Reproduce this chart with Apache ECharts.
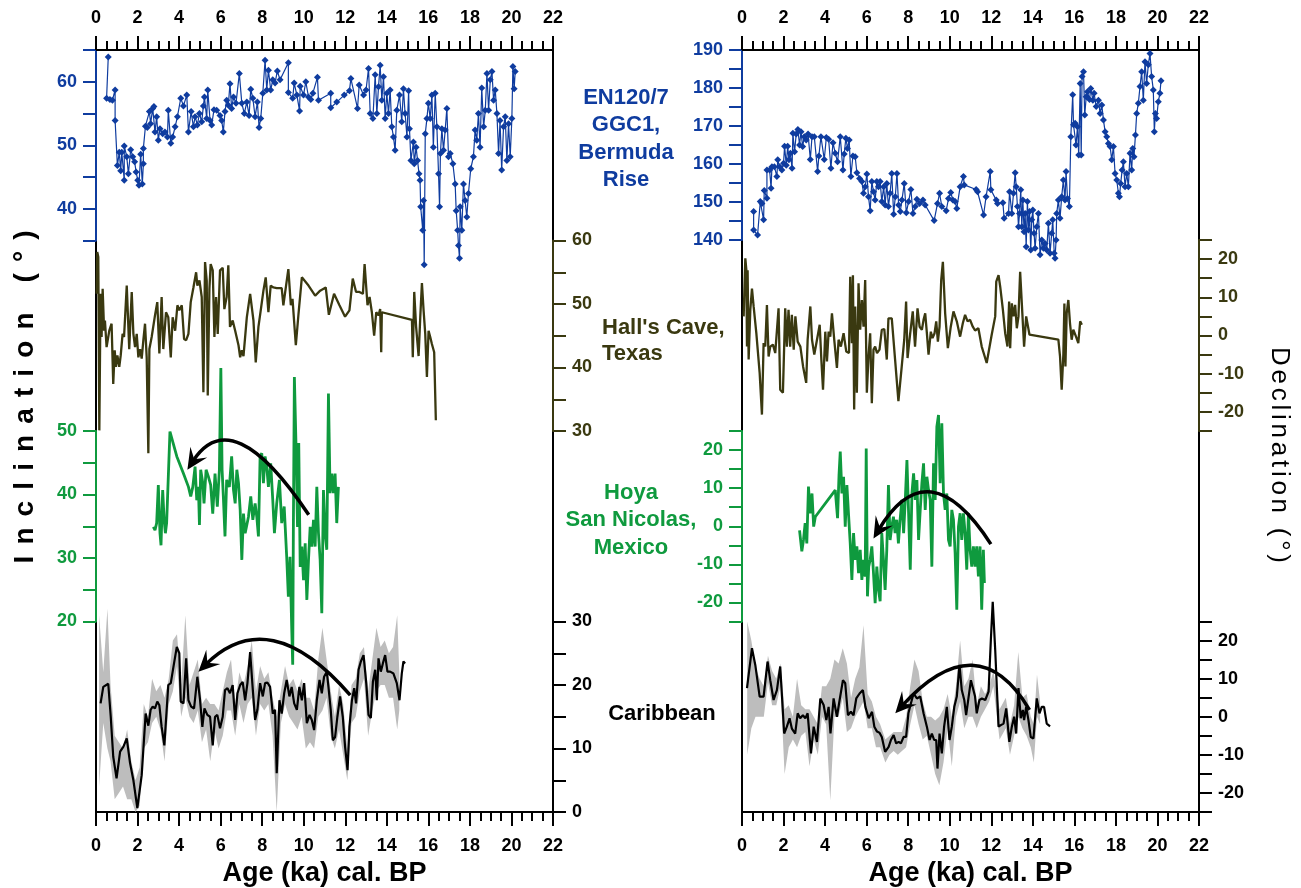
<!DOCTYPE html>
<html>
<head>
<meta charset="utf-8">
<title>Inclination / Declination records</title>
<script src="https://cdn.jsdelivr.net/npm/echarts@6.0.0/dist/echarts.min.js"></script>
<style>
html, body { margin: 0; padding: 0; background: #fff; }
#main { width: 1301px; height: 888px; }
</style>
</head>
<body>
<div id="main"></div>
<script>
// ---- data: [age (ka), value] ----
// inclination
var bermudaInc = [[0.59,63.9],[0.51,57.4],[0.67,57.2],[0.79,57.1],[0.92,58.7],[0.92,53.9],[1.03,46.8],[1.12,48.9],[1.19,46.0],[1.24,48.9],[1.36,44.5],[1.36,49.9],[1.48,48.2],[1.56,45.5],[1.67,49.3],[1.77,48.2],[1.86,47.4],[1.93,45.8],[2.01,44.5],[2.07,43.7],[2.15,48.6],[2.23,43.9],[2.28,47.1],[2.28,49.5],[2.38,53.0],[2.47,52.8],[2.57,55.3],[2.63,53.4],[2.73,55.8],[2.79,56.1],[2.84,52.1],[2.92,54.5],[3.0,50.8],[3.08,52.6],[3.21,51.8],[3.32,52.1],[3.44,51.3],[3.48,55.5],[3.6,50.3],[3.69,51.3],[3.81,52.9],[3.92,54.5],[4.08,57.4],[4.21,56.2],[4.37,57.9],[4.45,52.1],[4.58,55.3],[4.69,52.9],[4.77,54.5],[4.88,53.2],[4.98,55.0],[5.09,53.7],[5.17,56.2],[5.22,57.6],[5.33,54.2],[5.38,58.7],[5.49,53.9],[5.57,53.2],[5.68,55.6],[5.81,55.5],[5.97,54.7],[6.05,53.9],[6.13,52.1],[6.21,55.3],[6.29,57.1],[6.37,56.3],[6.45,59.7],[6.53,55.8],[6.62,57.6],[6.74,56.6],[6.9,61.3],[7.02,56.6],[7.14,55.0],[7.26,56.8],[7.37,54.7],[7.45,58.8],[7.55,57.4],[7.66,54.5],[7.77,56.8],[7.85,52.8],[7.93,54.2],[8.03,58.2],[8.14,63.4],[8.22,58.7],[8.3,61.8],[8.41,58.7],[8.51,60.3],[8.62,59.8],[8.73,61.7],[8.86,60.3],[9.26,63.0],[9.26,58.3],[9.47,57.4],[9.54,59.8],[9.67,57.9],[9.8,55.4],[9.83,59.3],[9.99,57.9],[10.1,60.0],[10.23,57.6],[10.34,57.2],[10.44,58.2],[10.66,60.7],[10.71,57.1],[11.3,58.2],[11.3,55.9],[11.59,56.8],[11.95,57.9],[12.2,58.6],[12.27,60.5],[12.59,55.8],[12.67,59.5],[12.88,57.9],[13.0,58.7],[13.12,62.1],[13.2,55.0],[13.33,54.2],[13.44,61.1],[13.52,55.0],[13.6,59.2],[13.68,62.6],[13.76,57.1],[13.84,60.8],[13.92,54.2],[14.0,58.2],[14.08,55.0],[14.16,58.7],[14.24,52.9],[14.32,51.3],[14.4,49.2],[14.48,55.5],[14.61,57.9],[14.72,53.7],[14.8,58.9],[14.88,55.0],[14.97,51.3],[15.05,58.6],[15.09,52.6],[15.16,47.6],[15.28,50.5],[15.32,47.1],[15.41,49.7],[15.48,47.6],[15.55,45.5],[15.6,44.5],[15.63,40.3],[15.73,36.6],[15.77,41.3],[15.8,31.2],[15.85,51.8],[15.93,54.2],[16.0,56.6],[16.09,54.2],[16.17,57.9],[16.24,49.7],[16.33,58.2],[16.41,52.9],[16.49,45.5],[16.54,40.3],[16.58,48.7],[16.65,52.6],[16.73,49.2],[16.81,52.4],[16.89,55.8],[16.97,48.2],[17.05,48.7],[17.18,47.1],[17.29,43.9],[17.34,39.7],[17.41,36.6],[17.45,34.2],[17.5,32.2],[17.53,40.3],[17.61,36.6],[17.69,43.9],[17.77,41.3],[17.85,38.7],[17.93,42.4],[18.04,46.3],[18.17,48.2],[18.25,52.4],[18.33,50.8],[18.41,55.0],[18.49,49.7],[18.57,59.0],[18.66,52.9],[18.74,55.5],[18.82,61.3],[18.9,55.5],[18.98,60.3],[19.06,61.6],[19.14,57.1],[19.22,58.7],[19.3,55.0],[19.38,48.7],[19.45,53.9],[19.53,46.1],[19.62,52.9],[19.7,54.5],[19.78,47.6],[19.86,53.4],[19.94,48.2],[20.02,54.2],[20.07,62.4],[20.13,58.9],[20.18,61.6]];

var hallsInc = [[0.03,51.6],[0.06,58.2],[0.11,57.4],[0.16,30.1],[0.22,51.6],[0.27,44.8],[0.32,52.4],[0.39,45.8],[0.43,47.4],[0.51,43.2],[0.64,45.8],[0.75,46.9],[0.83,37.4],[0.9,42.7],[0.96,40.1],[1.03,41.9],[1.12,40.1],[1.19,41.9],[1.28,45.3],[1.35,44.8],[1.48,52.9],[1.6,42.9],[1.72,51.9],[1.8,45.3],[1.88,43.2],[1.96,45.3],[2.04,41.6],[2.12,42.9],[2.2,41.4],[2.28,44.3],[2.36,46.9],[2.44,41.6],[2.52,26.5],[2.57,42.9],[2.68,44.8],[2.84,48.2],[2.95,50.3],[3.05,42.2],[3.16,51.1],[3.24,42.9],[3.37,48.7],[3.48,47.9],[3.6,41.6],[3.69,47.9],[3.81,45.8],[3.92,49.8],[4.01,49.0],[4.13,49.8],[4.24,44.5],[4.34,44.3],[4.45,45.3],[4.56,50.3],[4.69,52.6],[4.82,55.0],[4.88,52.9],[4.98,53.7],[5.09,51.1],[5.17,36.1],[5.25,56.6],[5.33,53.7],[5.38,35.6],[5.46,52.4],[5.52,56.3],[5.62,55.3],[5.7,44.8],[5.78,51.1],[5.86,45.3],[5.97,55.3],[6.1,55.7],[6.18,49.2],[6.29,51.1],[6.37,56.1],[6.45,46.4],[6.58,47.4],[6.7,45.8],[6.86,43.5],[6.94,41.6],[7.02,42.7],[7.1,41.8],[7.26,47.9],[7.42,51.6],[7.58,47.4],[7.69,40.8],[7.82,46.4],[7.93,49.0],[8.06,52.1],[8.17,54.2],[8.3,48.7],[8.41,52.9],[8.54,52.6],[8.7,52.5],[8.94,52.5],[9.02,49.8],[9.15,52.9],[9.26,55.5],[9.38,49.8],[9.46,50.8],[9.62,43.5],[9.75,48.5],[9.91,54.2],[10.23,52.9],[10.55,51.3],[10.79,52.1],[11.06,52.6],[11.21,48.3],[11.46,51.6],[11.72,49.8],[11.99,48.0],[12.2,49.0],[12.36,54.0],[12.52,51.9],[12.68,51.9],[12.85,51.6],[12.93,56.3],[13.01,56.3],[13.07,49.8],[13.17,51.1],[13.28,48.7],[13.39,45.0],[13.49,48.7],[13.6,48.2],[13.68,49.2],[13.73,42.4],[13.76,48.7],[15.21,47.5],[15.25,41.6],[15.32,51.9],[15.41,46.4],[15.53,41.8],[15.61,47.9],[15.69,53.3],[15.77,49.0],[15.85,45.3],[15.93,38.5],[16.01,45.8],[16.09,44.8],[16.17,43.7],[16.28,42.4],[16.36,31.7]];

var hoyaInc = [[2.76,34.9],[2.84,34.4],[2.92,35.5],[3.0,41.5],[3.08,33.9],[3.13,32.0],[3.21,40.7],[3.28,36.0],[3.34,33.9],[3.4,35.5],[3.56,49.9],[3.89,46.0],[4.21,43.3],[4.45,41.2],[4.56,39.7],[4.66,41.2],[4.77,44.4],[4.85,39.1],[4.93,41.2],[4.98,35.2],[5.04,43.9],[5.14,41.8],[5.2,38.6],[5.3,43.9],[5.41,42.8],[5.52,41.5],[5.62,37.0],[5.73,43.3],[5.84,38.1],[5.94,43.9],[6.01,59.9],[6.07,43.9],[6.13,39.7],[6.21,33.4],[6.29,42.3],[6.42,41.2],[6.53,46.0],[6.62,40.7],[6.7,38.6],[6.78,43.9],[6.86,41.8],[6.94,37.6],[7.02,29.7],[7.1,37.0],[7.18,33.9],[7.34,36.5],[7.45,39.7],[7.55,36.0],[7.66,38.6],[7.74,36.5],[7.82,33.4],[7.9,46.0],[7.98,46.5],[8.06,41.8],[8.14,46.0],[8.22,44.4],[8.3,41.2],[8.41,44.9],[8.51,39.1],[8.59,33.9],[8.7,38.6],[8.83,42.3],[8.94,35.5],[9.06,38.1],[9.18,30.2],[9.26,23.9],[9.34,30.2],[9.42,19.2],[9.47,13.2],[9.5,33.9],[9.55,58.5],[9.63,47.5],[9.7,34.9],[9.76,48.1],[9.83,28.6],[9.91,31.8],[9.99,26.5],[10.07,32.3],[10.15,23.4],[10.23,29.7],[10.31,34.9],[10.39,31.8],[10.47,36.0],[10.55,31.8],[10.63,41.2],[10.71,33.9],[10.79,29.7],[10.87,21.3],[10.95,40.7],[11.03,33.9],[11.11,31.3],[11.19,55.9],[11.27,40.2],[11.35,43.3],[11.43,40.2],[11.51,43.3],[11.59,35.5],[11.67,41.2]];

var caribInc = [[0.22,17.1],[0.35,19.7],[0.59,20.2],[0.71,15.0],[0.83,8.7],[0.99,5.3],[1.16,9.5],[1.32,10.3],[1.48,11.6],[1.64,7.7],[1.8,5.0],[1.99,0.6],[2.2,5.8],[2.39,15.5],[2.52,13.6],[2.63,16.1],[2.73,16.6],[2.84,16.3],[2.95,17.4],[3.05,16.8],[3.16,13.4],[3.29,10.5],[3.48,20.0],[3.6,20.3],[3.73,22.9],[3.89,26.0],[4.01,25.0],[4.08,17.4],[4.21,17.1],[4.34,24.2],[4.45,17.6],[4.58,16.6],[4.72,16.3],[4.88,21.3],[5.01,17.6],[5.12,13.4],[5.22,16.3],[5.36,15.3],[5.49,15.0],[5.62,10.5],[5.73,15.0],[5.84,15.3],[5.97,13.2],[6.1,15.0],[6.21,19.2],[6.33,19.5],[6.45,18.7],[6.58,20.0],[6.7,14.5],[6.81,18.7],[6.94,20.0],[7.06,20.5],[7.18,17.6],[7.29,20.3],[7.42,25.2],[7.55,19.2],[7.66,14.5],[7.77,16.1],[7.9,20.3],[8.03,18.2],[8.14,20.3],[8.25,20.4],[8.38,19.7],[8.51,15.5],[8.62,16.1],[8.7,6.1],[8.83,17.6],[8.94,15.5],[9.06,18.7],[9.18,20.8],[9.31,18.2],[9.42,19.7],[9.54,17.1],[9.67,16.1],[9.79,19.7],[9.91,17.6],[10.02,20.3],[10.15,14.0],[10.28,15.3],[10.39,14.5],[10.5,12.9],[10.63,17.6],[10.76,20.8],[10.87,18.7],[10.98,21.3],[11.11,22.1],[11.19,19.7],[11.3,16.1],[11.4,11.3],[11.51,11.8],[11.62,15.0],[11.75,18.2],[11.88,15.0],[11.99,10.3],[12.11,6.6],[12.2,13.4],[12.32,17.6],[12.43,19.5],[12.52,17.1],[12.64,22.4],[12.75,23.7],[12.88,24.7],[13.01,20.3],[13.12,15.3],[13.23,14.8],[13.33,20.5],[13.44,22.4],[13.52,17.6],[13.6,24.2],[13.71,22.1],[13.81,23.4],[13.92,24.7],[14.03,22.1],[14.16,22.1],[14.32,21.8],[14.48,20.3],[14.61,17.6],[14.72,21.8],[14.8,23.7],[14.88,23.4]];

// [age, upper, lower] of the grey envelope
var caribIncBand = [[0.15,31,4],[0.35,22,14],[0.55,32,10],[0.7,20,8],[0.9,12,2],[1.1,11,3],[1.3,10,4],[1.5,13,2],[1.7,8,2],[1.9,5,0],[2.1,7,1],[2.3,17,10],[2.5,15,11],[2.7,21,14],[2.9,19,15],[3.1,20,13],[3.3,18,8],[3.5,21,17],[3.7,27,19],[3.9,28,23],[4.1,20,15],[4.3,31,18],[4.5,20,15],[4.7,22,14],[4.9,24,16],[5.1,17,11],[5.3,18,13],[5.5,17,8],[5.7,17,13],[5.9,16,10],[6.1,19,12],[6.3,22,16],[6.5,24,16],[6.7,17,12],[6.9,22,17],[7.1,20,14],[7.3,23,17],[7.5,27,18],[7.7,19,12],[7.9,23,17],[8.1,21,16],[8.3,22,17],[8.5,18,12],[8.7,15,0],[8.9,19,14],[9.1,23,17],[9.3,20,15],[9.5,21,14],[9.7,19,13],[9.9,21,15],[10.1,18,10],[10.3,18,11],[10.5,16,10],[10.7,24,15],[10.9,29,16],[11.1,24,18],[11.3,19,12],[11.5,15,10],[11.7,20,13],[11.9,17,9],[12.1,10,5],[12.3,20,14],[12.5,21,15],[12.7,25,19],[12.9,26,21],[13.1,19,12],[13.3,24,16],[13.5,29,19],[13.7,26,20],[13.9,27,20],[14.1,25,18],[14.3,26,18],[14.5,31,13],[14.6,22,16]];

// declination
var bermudaDec = [[0.56,147.5],[0.56,142.6],[0.75,141.3],[0.88,150.1],[0.96,149.6],[1.04,145.3],[1.07,153.0],[1.2,151.0],[1.2,158.4],[1.33,158.4],[1.4,153.6],[1.44,159.3],[1.56,159.3],[1.68,156.7],[1.72,161.1],[1.81,159.3],[1.92,158.4],[2.0,160.2],[2.05,164.7],[2.13,159.7],[2.2,164.7],[2.26,161.1],[2.33,162.8],[2.41,158.9],[2.45,168.1],[2.53,163.2],[2.61,167.9],[2.69,169.1],[2.77,165.0],[2.84,168.5],[2.92,164.6],[3.0,167.2],[3.09,166.3],[3.18,167.9],[3.29,161.2],[3.37,167.2],[3.48,167.2],[3.64,158.0],[3.7,162.1],[3.8,167.2],[3.96,161.2],[4.06,167.0],[4.17,166.5],[4.28,158.9],[4.38,165.6],[4.49,162.8],[4.6,160.6],[4.73,167.2],[4.86,158.4],[4.92,162.6],[5.0,166.8],[5.08,164.1],[5.16,166.3],[5.24,156.7],[5.34,162.1],[5.45,161.9],[5.53,157.7],[5.66,156.2],[5.77,155.4],[5.85,152.3],[5.93,154.0],[6.01,157.4],[6.09,151.4],[6.17,147.7],[6.25,155.4],[6.33,152.7],[6.41,150.5],[6.49,155.4],[6.57,154.0],[6.65,155.4],[6.73,150.1],[6.82,154.0],[6.89,149.2],[6.97,154.9],[7.05,148.8],[7.13,152.3],[7.21,157.5],[7.3,146.8],[7.38,151.4],[7.46,157.5],[7.54,149.2],[7.62,147.5],[7.7,150.5],[7.81,154.9],[7.91,147.2],[8.02,150.1],[8.13,153.3],[8.23,147.0],[8.34,148.8],[8.42,150.7],[8.55,149.6],[8.71,150.5],[8.82,149.2],[9.25,145.1],[9.41,149.6],[9.51,152.3],[9.62,148.8],[9.83,147.7],[9.94,150.9],[10.05,152.5],[10.15,150.5],[10.26,150.1],[10.34,148.3],[10.5,154.0],[10.66,156.7],[10.7,154.5],[11.27,153.3],[11.34,152.7],[11.63,146.6],[11.75,151.4],[11.95,158.0],[11.98,153.2],[12.24,150.5],[12.3,149.6],[12.56,149.8],[12.62,145.7],[12.83,147.0],[12.88,152.7],[12.99,147.0],[13.07,152.3],[13.15,157.7],[13.2,154.0],[13.26,148.8],[13.31,143.5],[13.36,147.0],[13.42,153.2],[13.47,143.5],[13.52,150.5],[13.58,142.2],[13.63,147.0],[13.68,138.2],[13.74,150.1],[13.79,142.6],[13.84,147.5],[13.9,137.4],[13.95,145.3],[14.0,147.9],[14.06,141.8],[14.11,137.8],[14.19,143.5],[14.27,147.0],[14.35,136.1],[14.43,140.0],[14.51,137.8],[14.59,139.1],[14.67,137.4],[14.75,144.4],[14.83,136.5],[14.91,141.8],[14.96,145.3],[15.03,136.5],[15.07,135.2],[15.12,140.0],[15.15,147.0],[15.23,150.5],[15.31,145.7],[15.39,151.4],[15.47,155.8],[15.55,150.5],[15.6,158.0],[15.67,150.9],[15.76,148.8],[15.83,167.2],[15.92,178.2],[15.96,170.3],[16.04,170.7],[16.08,165.0],[16.15,169.8],[16.21,162.4],[16.28,181.2],[16.33,162.4],[16.37,183.0],[16.44,184.3],[16.5,172.9],[16.57,177.7],[16.63,179.0],[16.73,177.0],[16.79,179.9],[16.89,176.8],[16.95,178.6],[17.05,175.1],[17.16,176.8],[17.24,173.3],[17.32,175.5],[17.4,171.6],[17.48,168.5],[17.56,167.2],[17.64,165.4],[17.72,164.6],[17.8,161.1],[17.88,164.6],[17.96,157.5],[18.04,155.8],[18.12,152.3],[18.17,151.4],[18.23,154.9],[18.3,158.4],[18.36,160.6],[18.44,154.0],[18.52,157.5],[18.6,154.0],[18.68,162.8],[18.76,158.4],[18.81,164.1],[18.87,161.9],[18.94,167.6],[19.0,173.3],[19.08,176.0],[19.16,180.4],[19.24,184.3],[19.32,176.8],[19.4,186.9],[19.48,181.2],[19.56,186.1],[19.64,189.1],[19.72,183.0],[19.8,179.5],[19.85,168.5],[19.9,173.3],[19.96,172.0],[20.04,176.4],[20.12,178.6],[20.17,181.9]];

var hallsDec = [[0.08,5.0],[0.16,20.2],[0.21,17.1],[0.24,-2.9],[0.27,17.1],[0.32,-6.3],[0.4,6.7],[0.48,12.3],[0.56,7.6],[0.69,0.6],[0.85,-9.8],[0.96,-20.7],[1.04,-2.0],[1.12,-2.9],[1.2,8.0],[1.28,-5.5],[1.36,-2.9],[1.49,-2.4],[1.6,-4.6],[1.76,7.1],[1.84,-14.2],[1.97,-15.0],[2.08,7.1],[2.16,-2.9],[2.24,6.7],[2.32,-2.9],[2.4,5.4],[2.49,-3.7],[2.57,5.0],[2.68,-1.6],[2.81,-2.9],[2.94,-8.1],[3.09,-12.4],[3.16,-1.1],[3.29,7.6],[3.37,-1.1],[3.48,-5.0],[3.61,-1.1],[3.74,2.8],[3.82,-6.3],[3.9,-14.2],[4.01,1.0],[4.09,-6.8],[4.17,1.0],[4.25,-0.3],[4.33,5.8],[4.44,-1.1],[4.57,-8.5],[4.65,-1.1],[4.76,-2.9],[4.89,0.6],[5.02,-4.2],[5.15,-4.6],[5.21,15.4],[5.29,-2.0],[5.34,15.8],[5.4,-19.4],[5.45,7.6],[5.53,-15.0],[5.61,13.7],[5.69,1.5],[5.77,9.3],[5.85,2.3],[5.93,14.5],[6.01,-15.0],[6.09,-5.5],[6.17,0.6],[6.25,-17.7],[6.33,-3.7],[6.41,-2.9],[6.5,-4.6],[6.62,-3.7],[6.73,1.5],[6.85,1.7],[6.97,-6.3],[7.05,4.5],[7.21,4.5],[7.37,-6.3],[7.53,-17.2],[7.69,-8.1],[7.81,-1.1],[7.9,8.9],[7.97,-5.9],[8.09,0.2],[8.22,6.3],[8.33,-2.9],[8.45,7.1],[8.55,2.3],[8.66,1.5],[8.74,4.1],[8.82,5.8],[8.9,0.6],[8.98,-5.0],[9.09,1.0],[9.17,-0.7],[9.27,0.6],[9.35,3.7],[9.43,-1.6],[9.51,2.3],[9.59,14.5],[9.67,19.3],[9.78,5.8],[9.91,-3.3],[10.05,2.3],[10.18,6.3],[10.34,3.7],[10.5,-0.3],[10.63,3.2],[10.74,5.4],[10.86,3.7],[10.98,4.1],[11.11,2.3],[11.22,1.3],[11.38,1.9],[11.54,-2.9],[11.78,-7.2],[12.02,0.2],[12.19,5.0],[12.24,14.1],[12.35,15.8],[12.43,12.8],[12.56,6.7],[12.67,0.6],[12.78,-2.9],[12.86,8.9],[12.91,-3.3],[12.99,8.4],[13.07,5.0],[13.15,8.0],[13.23,1.9],[13.31,5.0],[13.39,16.7],[13.47,8.4],[13.58,-2.9],[13.68,5.0],[13.84,0.2],[15.23,-1.1],[15.31,-5.5],[15.39,-14.2],[15.47,-5.0],[15.52,8.4],[15.57,-8.1],[15.63,5.8],[15.71,9.3],[15.79,3.2],[15.87,-1.1],[15.95,1.5],[16.08,-0.3],[16.19,-2.0],[16.28,3.7],[16.36,2.8]];

var hoyaDec = [[2.77,-1.1],[2.88,-6.6],[2.96,-3.6],[3.04,0.8],[3.12,-4.5],[3.2,10.4],[3.28,3.4],[3.37,8.6],[3.45,-0.1],[3.53,2.5],[4.49,9.5],[4.6,2.1],[4.67,13.4],[4.73,19.6],[4.81,8.6],[4.89,13.0],[4.97,-0.1],[5.05,10.8],[5.13,3.0],[5.21,-4.5],[5.29,-14.1],[5.37,-1.8],[5.45,-8.8],[5.53,-5.3],[5.61,-12.3],[5.69,-6.2],[5.77,-14.1],[5.85,-8.8],[5.93,-13.2],[5.98,20.4],[6.04,-18.4],[6.1,-10.6],[6.17,-8.8],[6.25,-5.3],[6.33,-12.3],[6.41,-20.2],[6.49,-10.6],[6.57,-16.7],[6.65,-19.7],[6.73,-1.8],[6.81,-8.8],[6.89,-16.7],[6.97,-6.2],[7.05,10.8],[7.13,-3.6],[7.21,-0.1],[7.29,2.5],[7.37,-1.8],[7.45,1.7],[7.53,-4.5],[7.61,1.7],[7.7,6.9],[7.78,-1.8],[7.86,6.9],[7.94,17.4],[8.02,3.4],[8.1,-11.4],[8.18,8.6],[8.26,13.9],[8.34,6.9],[8.42,12.1],[8.5,-3.6],[8.58,4.3],[8.66,11.3],[8.74,16.5],[8.82,4.3],[8.9,13.0],[8.98,9.5],[9.06,6.9],[9.14,-10.6],[9.22,16.5],[9.3,6.9],[9.38,26.1],[9.46,29.2],[9.54,11.3],[9.62,27.0],[9.7,8.6],[9.78,4.3],[9.86,8.6],[9.94,-3.6],[10.02,-5.3],[10.1,4.3],[10.18,1.7],[10.26,-7.1],[10.34,-21.9],[10.42,-0.1],[10.5,3.4],[10.58,-3.6],[10.66,3.4],[10.74,-1.8],[10.82,-11.4],[10.9,3.4],[10.98,-6.2],[11.06,-10.6],[11.14,-5.3],[11.22,-10.6],[11.3,-5.3],[11.38,-13.2],[11.46,-5.3],[11.54,-21.9],[11.62,-6.2],[11.67,-14.9]];

var caribDec = [[0.24,7.5],[0.48,18.0],[0.64,13.6],[0.85,5.3],[1.04,5.3],[1.23,14.5],[1.36,9.6],[1.52,4.4],[1.68,7.0],[1.84,13.2],[2.03,-4.4],[2.16,-2.6],[2.29,-0.4],[2.4,-3.1],[2.56,-4.4],[2.68,0.9],[2.8,-0.4],[2.93,0.4],[3.05,-0.4],[3.16,0.9],[3.32,-9.6],[3.45,-2.6],[3.61,-6.6],[3.77,4.8],[3.93,3.1],[4.06,-0.9],[4.17,2.6],[4.26,-4.4],[4.41,4.8],[4.57,0.0],[4.7,4.4],[4.86,9.6],[4.97,8.8],[5.1,0.4],[5.24,1.3],[5.37,0.4],[5.5,4.8],[5.66,6.1],[5.82,7.0],[5.94,2.6],[6.1,-0.4],[6.26,1.3],[6.37,-2.6],[6.5,-3.9],[6.62,-4.2],[6.73,-5.3],[6.89,-9.2],[7.06,-7.9],[7.17,-6.1],[7.3,-4.8],[7.42,-7.0],[7.54,-6.6],[7.65,-7.0],[7.78,-5.3],[7.9,-5.3],[8.01,0.9],[8.13,3.5],[8.26,6.1],[8.42,4.8],[8.58,5.3],[8.74,0.9],[8.9,-2.6],[9.03,-6.1],[9.14,-4.4],[9.25,-6.1],[9.35,-6.1],[9.41,-13.6],[9.51,-4.4],[9.62,-9.6],[9.73,-2.6],[9.86,2.6],[9.99,-6.1],[10.1,-2.6],[10.22,2.6],[10.34,5.3],[10.47,13.6],[10.58,7.0],[10.7,4.4],[10.79,0.4],[10.9,4.8],[11.02,9.6],[11.14,7.0],[11.22,5.3],[11.3,0.9],[11.43,4.4],[11.55,4.8],[11.71,4.4],[11.87,6.6],[11.98,20.2],[12.07,30.2],[12.19,17.5],[12.35,-2.6],[12.46,-2.2],[12.59,-1.8],[12.72,2.2],[12.87,-6.6],[12.99,-2.6],[13.1,0.0],[13.2,-4.4],[13.31,7.5],[13.42,-0.4],[13.52,1.8],[13.58,-0.9],[13.68,2.6],[13.79,-0.9],[13.9,-5.3],[14.03,-5.7],[14.19,4.8],[14.32,0.9],[14.43,2.6],[14.54,2.6],[14.67,-1.8],[14.83,-2.5]];

var caribDecBand = [[0.25,25,-10],[0.45,20,-3],[0.65,13,0],[0.85,10,0],[1.05,8,0],[1.25,16,9],[1.45,12,3],[1.65,10,3],[1.85,14,8],[2.05,2,-15],[2.25,3,-8],[2.45,0,-6],[2.65,10,-8],[2.85,3,-5],[3.05,2,-4],[3.25,2,-13],[3.45,0,-6],[3.65,-2,-10],[3.85,8,0],[4.05,8,-2],[4.25,10,-22],[4.45,15,0],[4.65,14,0],[4.85,18,5],[5.05,14,-4],[5.25,5,-3],[5.45,10,0],[5.65,13,2],[5.85,24,4],[6.05,6,-3],[6.25,4,-3],[6.45,0,-8],[6.65,-2,-8],[6.9,-6,-12],[7.1,-5,-10],[7.3,-4,-9],[7.5,-4,-10],[7.7,-4,-9],[7.9,0,-8],[8.1,8,-2],[8.3,15,3],[8.5,12,-2],[8.7,4,-6],[8.9,0,-5],[9.1,0,-10],[9.3,-1,-15],[9.5,0,-18],[9.7,2,-12],[9.9,6,-3],[10.1,0,-13],[10.3,8,0],[10.5,20,4],[10.7,8,-3],[10.9,10,0],[11.1,15,0],[11.3,3,-3],[11.5,8,0],[11.7,6,2],[11.9,8,4],[12.1,12,8],[12.4,2,-6],[12.7,5,-3],[12.9,-2,-10],[13.1,3,-5],[13.3,17,0],[13.5,5,-3],[13.7,6,-5],[13.9,0,-8],[14.05,-2,-12],[14.2,11,0],[14.35,4,-2]];

// arrows: [start, peak, tip] in axis values
var arrowIncHoya = [[10.24,36.8],[6.94,47.6],[4.4,43.9]];
var arrowIncCarib = [[12.24,18.4],[8.46,26.7],[4.93,22.1]];
var arrowDecHoya = [[11.98,-4.7],[9.06,8.4],[6.33,-3.2]];
var arrowDecCarib = [[13.84,1.8],[10.98,13.0],[7.38,0.9]];

// ---- styling ----
var FONT = 'Arial, "Liberation Sans", sans-serif';
var BLUE = '#0f3c9f', OLIVE = '#3a3910', GREEN = '#0f9a3e', BLACK = '#000000', GRAY = '#bdbdbd';

var chart = echarts.init(document.getElementById('main'));
var grids = [], xAxes = [], yAxes = [], series = [];

function ageAxis(grid, pos, withName) {
  return {
    type: 'value', gridIndex: grid, position: pos, min: 0, max: 22, interval: 2,
    axisLine: { show: true, onZero: false, lineStyle: { color: '#000', width: 2 } },
    axisTick: { show: true, length: 14, lineStyle: { color: '#000', width: 2 } },
    minorTick: { show: true, splitNumber: 4, length: 9, lineStyle: { color: '#000', width: 2 } },
    splitLine: { show: false },
    axisLabel: { margin: pos === 'top' ? 23 : 25, color: '#000', fontSize: 18, fontWeight: 'bold', fontFamily: FONT },
    name: withName ? 'Age (ka) cal. BP' : '',
    nameLocation: 'middle', nameGap: 46,
    nameTextStyle: { color: '#000', fontSize: 27, fontWeight: 'bold', fontFamily: FONT }
  };
}

function valueAxis(grid, pos, min, max, color) {
  return {
    type: 'value', gridIndex: grid, position: pos, min: min, max: max, interval: 5,
    axisLine: { show: true, onZero: false, lineStyle: { color: color, width: 2 } },
    axisTick: { show: true, length: 13, lineStyle: { color: color, width: 2 } },
    splitLine: { show: false },
    axisLabel: {
      color: color, fontSize: 18, fontWeight: 'bold', fontFamily: FONT, margin: 19,
      formatter: function (v) { return v % 10 === 0 ? String(v) : ''; }
    }
  };
}

function lineSeries(data, xi, yi, color, width, marker) {
  return {
    type: 'line', xAxisIndex: xi, yAxisIndex: yi, data: data, clip: false,
    symbol: marker ? 'diamond' : 'none', symbolSize: 7, showSymbol: !!marker, showAllSymbol: true,
    itemStyle: { color: color }, lineStyle: { color: color, width: width },
    silent: true, z: 3
  };
}

// grey uncertainty envelope, drawn as one polygon
function bandSeries(band, xi, yi) {
  return {
    type: 'custom', xAxisIndex: xi, yAxisIndex: yi, silent: true, z: 2,
    data: [[band[0][0], band[0][1]]],
    renderItem: function (params, api) {
      var pts = band.map(function (d) { return api.coord([d[0], d[1]]); });
      for (var i = band.length - 1; i >= 0; i--) pts.push(api.coord([band[i][0], band[i][2]]));
      return { type: 'polygon', shape: { points: pts }, style: { fill: GRAY } };
    }
  };
}

function addPanel(left, width, bands) {
  var fg = grids.length;
  grids.push({ left: left, top: 50, width: width, height: 762, show: true, borderColor: '#000', borderWidth: 2,
    backgroundColor: 'transparent', outerBoundsMode: 'none' });
  xAxes.push(ageAxis(fg, 'top', false));
  xAxes.push(ageAxis(fg, 'bottom', true));
  yAxes.push({ type: 'value', gridIndex: fg, min: 0, max: 1, show: false });
  bands.forEach(function (b) {
    var g = grids.length;
    grids.push({ left: left, top: b.top, width: width, height: b.height, outerBoundsMode: 'none' });
    var xi = xAxes.length, yi = yAxes.length;
    xAxes.push({ type: 'value', gridIndex: g, min: 0, max: 22, show: false });
    yAxes.push(valueAxis(g, b.side, b.min, b.max, b.color));
    if (b.band) series.push(bandSeries(b.band, xi, yi));
    b.seriesIndex = series.length;
    series.push(lineSeries(b.data, xi, yi, b.color, b.width, b.marker));
  });
}

var leftBands = [
  { top: 50, height: 190.5, side: 'left', min: 35, max: 65, color: BLUE, data: bermudaInc, width: 1.2, marker: true },
  { top: 240.5, height: 190.5, side: 'right', min: 30, max: 60, color: OLIVE, data: hallsInc, width: 2.3 },
  { top: 431, height: 190.5, side: 'left', min: 20, max: 50, color: GREEN, data: hoyaInc, width: 2.8 },
  { top: 621.5, height: 190.5, side: 'right', min: 0, max: 30, color: BLACK, data: caribInc, width: 2.2, band: caribIncBand }
];
var rightBands = [
  { top: 50, height: 190, side: 'left', min: 140, max: 190, color: BLUE, data: bermudaDec, width: 1.2, marker: true },
  { top: 240, height: 191, side: 'right', min: -25, max: 25, color: OLIVE, data: hallsDec, width: 2.3 },
  { top: 431, height: 190.5, side: 'left', min: -25, max: 25, color: GREEN, data: hoyaDec, width: 2.8 },
  { top: 621.5, height: 190.5, side: 'right', min: -25, max: 25, color: BLACK, data: caribDec, width: 2.2, band: caribDecBand }
];
addPanel(96, 457, leftBands);
addPanel(742, 457, rightBands);

chart.setOption({
  animation: false,
  backgroundColor: '#fff',
  grid: grids, xAxis: xAxes, yAxis: yAxes, series: series
});

// ---- annotations ----
function arrowGraphics(seriesIndex, pts) {
  var s = chart.convertToPixel({ seriesIndex: seriesIndex }, pts[0]);
  var p = chart.convertToPixel({ seriesIndex: seriesIndex }, pts[1]);
  var t = chart.convertToPixel({ seriesIndex: seriesIndex }, pts[2]);
  var c = [2 * p[0] - (s[0] + t[0]) / 2, 2 * p[1] - (s[1] + t[1]) / 2];
  var dx = t[0] - c[0], dy = t[1] - c[1], len = Math.sqrt(dx * dx + dy * dy);
  var ux = dx / len, uy = dy / len, nx = -uy, ny = ux;
  var L = 21, W = 10;
  var head = [
    [t[0], t[1]],
    [t[0] - ux * L + nx * W, t[1] - uy * L + ny * W],
    [t[0] - ux * L * 0.6, t[1] - uy * L * 0.6],
    [t[0] - ux * L - nx * W, t[1] - uy * L - ny * W]
  ];
  return [
    { type: 'bezierCurve', silent: true, z: 50,
      shape: { x1: s[0], y1: s[1], cpx1: c[0], cpy1: c[1], x2: t[0] - ux * 10, y2: t[1] - uy * 10 },
      style: { stroke: '#000', lineWidth: 3.5, fill: 'none' } },
    { type: 'polygon', silent: true, z: 51, shape: { points: head }, style: { fill: '#000' } }
  ];
}

var measureCtx = document.createElement('canvas').getContext('2d');
// letter-spaced vertical title; dir 1 reads upwards, -1 downwards
function spacedText(str, cx, cy, span, size, weight, dir, color) {
  var chars = Array.from(str);
  measureCtx.font = weight + ' ' + size + 'px ' + FONT;
  var widths = chars.map(function (ch) { return measureCtx.measureText(ch).width; });
  var sum = widths.reduce(function (a, b) { return a + b; }, 0);
  var gap = (span - sum) / (chars.length - 1);
  var pos = -span / 2, out = [];
  chars.forEach(function (ch, i) {
    var mid = pos + widths[i] / 2;
    out.push({ type: 'text', silent: true, x: cx, y: cy - dir * mid, rotation: dir * Math.PI / 2,
      style: { text: ch, fill: color, fontSize: size, fontWeight: weight, fontFamily: FONT, align: 'center', verticalAlign: 'middle' } });
    pos += widths[i] + gap;
  });
  return out;
}

function label(text, x, y, color, align, lh) {
  return { type: 'text', silent: true, x: x, y: y,
    style: { text: text, fill: color, fontSize: 22, fontWeight: 'bold', fontFamily: FONT,
      align: align, verticalAlign: 'middle', lineHeight: lh || 27 } };
}

var graphics = []
  .concat(arrowGraphics(leftBands[2].seriesIndex, arrowIncHoya))
  .concat(arrowGraphics(leftBands[3].seriesIndex, arrowIncCarib))
  .concat(arrowGraphics(rightBands[2].seriesIndex, arrowDecHoya))
  .concat(arrowGraphics(rightBands[3].seriesIndex, arrowDecCarib))
  .concat(spacedText('Inclination (°)', 25, 397, 333, 28, 'bold', 1, '#000'))
  .concat(spacedText('Declination (°)', 1279, 455, 216, 26, 'normal', -1, '#000'));

graphics.push(label('EN120/7\nGGC1,\nBermuda\nRise', 626, 139, BLUE, 'center', 27.4));
graphics.push(label("Hall's Cave,\nTexas", 602, 341, OLIVE, 'left', 26));
graphics.push(label('Hoya\nSan Nicolas,\nMexico', 631, 520, GREEN, 'center', 27.5));
graphics.push(label('Caribbean', 662, 714, BLACK, 'center'));

chart.setOption({ graphic: graphics });
</script>
</body>
</html>
